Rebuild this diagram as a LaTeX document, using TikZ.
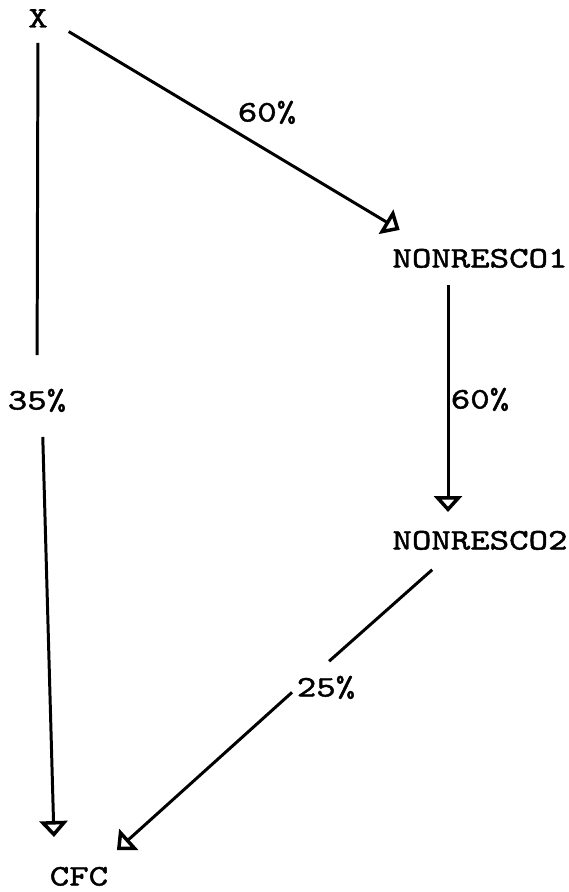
\documentclass[tikz,border=0pt]{standalone}
\usepackage{fontspec}
\newfontfamily\flowfont{lmmono10-regular.otf}[FakeStretch=1.24, FakeBold=1.5]
\usetikzlibrary{arrows.meta}
\tikzset{>={Triangle[open,length=.32cm,width=.56cm,line width=2pt]}}

\begin{document}
\begin{tikzpicture}[x=.02cm, y=-.02cm, line width=1.7pt,
    box/.style={inner sep=0pt, outer sep=0pt, text height=.34cm, text depth=0pt,
      font=\flowfont\fontsize{17}{20}\selectfont}]
  \useasboundingbox (0,0) rectangle (568,892);
  % accounts
  \node[box] (x) at (38,19) {X};
  \node[box] (n1) at (480,259) {NONRESCO1};
  \node[box] (n2) at (480,541) {NONRESCO2};
  \node[box] (cfc) at (79,877) {CFC};
  % shares
  \node[box] (p35) at (37,401) {35\%};
  \node[box] (p60a) at (267,113) {60\%};
  \node[box] (p60b) at (480,400) {60\%};
  \node[box] (p25) at (326,688) {25\%};
  % flows
  \draw[shorten <=.31cm, shorten >=.75cm] (x.south) -- (p35.north);
  \draw[->, shorten <=.55cm, shorten >=.63cm] ([xshift=.1cm]p35.south) -- ([xshift=.1cm]cfc.north west);
  \draw[->, shorten <=.49cm, shorten >=.8cm] (x.east) -- ([xshift=-.92cm]n1.north);
  \draw[->, shorten <=.35cm, shorten >=.41cm] ([xshift=-.64cm]n1.south) -- ([xshift=-.64cm]n2.north);
  \draw[shorten <=.61cm, shorten >=.55cm] ([xshift=-.5cm]n2.south) -- ([xshift=-.35cm]p25.north);
  \draw[->, shorten <=.13cm, shorten >=.55cm] (p25.west) -- ([xshift=.35cm]cfc.north);
\end{tikzpicture}
\end{document}
